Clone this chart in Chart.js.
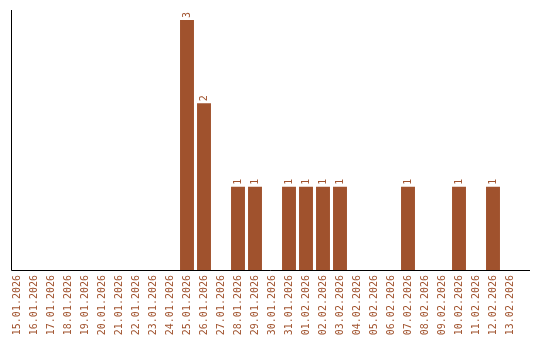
<!DOCTYPE html>
<html>
<head>
<meta charset="utf-8">
<script src="https://cdn.jsdelivr.net/npm/chart.js@4"></script>
<style>
	body { margin: 0; background: #fff; }
	#wrap { width: 540px; height: 340px; }
</style>
</head>
<body>
<div id="wrap"><canvas id="dayChart"></canvas></div>
<script>
// dates on the x axis
const days = [
	'15.01.2026', '16.01.2026', '17.01.2026', '18.01.2026', '19.01.2026',
	'20.01.2026', '21.01.2026', '22.01.2026', '23.01.2026', '24.01.2026',
	'25.01.2026', '26.01.2026', '27.01.2026', '28.01.2026', '29.01.2026',
	'30.01.2026', '31.01.2026', '01.02.2026', '02.02.2026', '03.02.2026',
	'04.02.2026', '05.02.2026', '06.02.2026', '07.02.2026', '08.02.2026',
	'09.02.2026', '10.02.2026', '11.02.2026', '12.02.2026', '13.02.2026',
];
// count per day
const counts = [
	0, 0, 0, 0, 0,
	0, 0, 0, 0, 0,
	3, 2, 0, 1, 1,
	0, 1, 1, 1, 1,
	0, 0, 0, 1, 0,
	0, 1, 0, 1, 0,
];

const brown = '#a0522d';

// value labels above bars + the two axis lines
const extras = {
	id: 'extras',
	afterDatasetsDraw(chart) {
		const c = chart.ctx;
		const meta = chart.getDatasetMeta(0);
		c.save();
		c.fillStyle = brown;
		c.font = '10px "DejaVu Sans Mono"';
		c.textAlign = 'left';
		c.textBaseline = 'middle';
		meta.data.forEach(function (bar, i) {
			if (!counts[i]) return;
			c.save();
			c.translate(bar.x, bar.y - 2);
			c.rotate(-Math.PI / 2);
			c.fillText(String(counts[i]), 0, 0);
			c.restore();
		});
		const a = chart.chartArea;
		c.strokeStyle = '#000';
		c.lineWidth = 1;
		c.beginPath();
		c.moveTo(11.5, a.top);
		c.lineTo(11.5, a.bottom + 0.5);
		c.lineTo(530, a.bottom + 0.5);
		c.stroke();
		c.restore();
	},
};

var ctx = document.getElementById('dayChart').getContext('2d');

var dayChart = new Chart(ctx, {
	type: 'bar',
	data: {
		labels: days,
		datasets: [
			{
				data: counts,
				backgroundColor: brown,
				barPercentage: 0.82,
				categoryPercentage: 1,
			},
		],
	},
	options: {
		responsive: true,
		maintainAspectRatio: false,
		animation: false,
		layout: { padding: { left: 8.5, right: 21.5, top: 10, bottom: 0 } },
		plugins: {
			legend: { display: false },
			tooltip: { enabled: false },
		},
		scales: {
			x: {
				grid: { display: false },
				border: { display: false },
				afterFit: function (scale) {
					scale.height = 70;
				},
				ticks: {
					color: brown,
					font: { family: 'DejaVu Sans Mono', size: 10 },
					minRotation: 90,
					maxRotation: 90,
					autoSkip: false,
					padding: -3,
				},
			},
			y: {
				display: false,
				min: 0,
				max: 3.12,
			},
		},
	},
	plugins: [extras],
});
</script>
</body>
</html>
